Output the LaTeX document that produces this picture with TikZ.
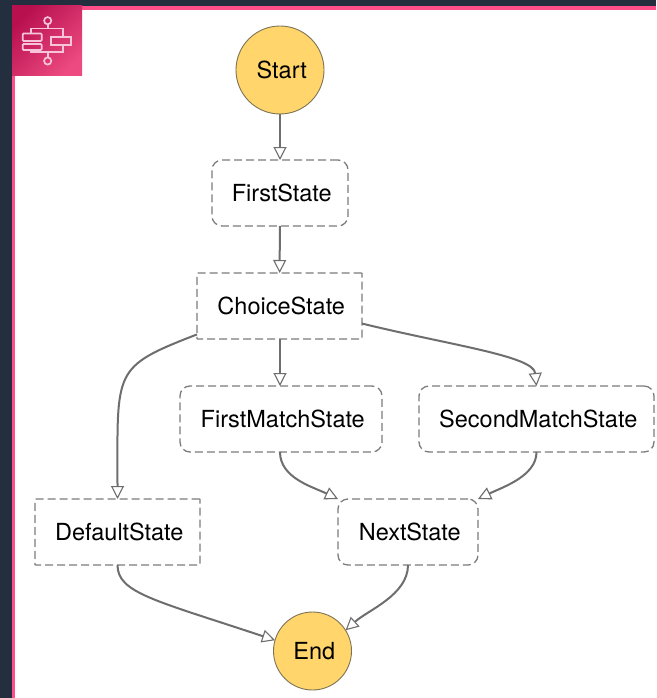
\documentclass[tikz,border=0pt]{standalone}
\usepackage{fontspec}
\setmainfont{TeX Gyre Heros}
\usetikzlibrary{arrows.meta}
\definecolor{navy}{HTML}{232F3E}
\definecolor{framepink}{HTML}{FF4F8B}
\definecolor{icondark}{HTML}{B8104F}
\definecolor{iconlight}{HTML}{EC4A80}
\definecolor{iconline}{HTML}{F7C4DA}
\definecolor{endfill}{HTML}{FFD56C}
\definecolor{endline}{HTML}{7D7355}
\definecolor{linegray}{HTML}{6E6E6E}
\definecolor{dashgray}{HTML}{7C7C7C}
\tikzset{
    labeltext/.style = {font = \fontsize{23.5}{27}\selectfont, text = black, execute at begin node = \hspace{3.5pt}},
    statebox/.style = {labeltext, draw = dashgray, line width = 1.3, dash pattern = on 8pt off 4pt, rounded corners = 0.5, minimum height = 66, inner sep = 0, outer sep = 0},
    roundbox/.style = {statebox, rounded corners = 10},
    endpoint/.style = {labeltext, circle, draw = endline, fill = endfill, line width = 0.9, inner sep = 0, outer sep = 0},
    edge/.style = {draw = linegray, line width = 2, -{Triangle[open, length = 13, width = 13, line width = 1.1]}},
    iconstroke/.style = {draw = iconline, line width = 1.7}
}
\begin{document}
\begin{tikzpicture}[x=1pt, y=-1pt]
        \useasboundingbox (0,0) rectangle (656,698);
        % page frame
        \fill[navy] (0,0) rectangle (656,698);
        \fill[framepink] (12,6) rectangle (656,698);
        \fill[white] (15,10) rectangle (656,698);

        % icon
        \shade[left color = icondark, right color = iconlight, shading angle = 45] (12,6) rectangle (82,76);
        \draw[iconstroke] (47.7,20.7) circle (3.6);
        \draw[iconstroke] (47.7,61) circle (3.6);
        \draw[iconstroke] (47.7,24.3) -- (47.7,28.5);
        \draw[iconstroke] (47.7,51.7) -- (47.7,57.4);
        \draw[iconstroke] (30.7,33.5) -- (30.7,28.5) -- (62.7,28.5) -- (62.7,36.7);
        \draw[iconstroke] (30.7,50) -- (30.7,51.7) -- (62.7,51.7) -- (62.7,45);
        \draw[iconstroke] (51,36.7) rectangle (71,45);
        \draw[iconstroke, rounded corners = 1] (22.7,33.5) rectangle (41.7,41);
        \draw[iconstroke, rounded corners = 1] (22.7,44) rectangle (41.7,50);

        % states
        \node[endpoint, minimum size = 88] (Start) at (280,70) {Start};
        \node[roundbox, minimum width = 136] (FirstState) at (280,193) {FirstState};
        \node[statebox, minimum width = 165] (ChoiceState) at (279.5,306) {ChoiceState};
        \node[roundbox, minimum width = 202] (FirstMatchState) at (281,419) {FirstMatchState};
        \node[roundbox, minimum width = 235] (SecondMatchState) at (536.5,419) {SecondMatchState};
        \node[statebox, minimum width = 165] (DefaultState) at (117.5,532) {DefaultState};
        \node[roundbox, minimum width = 140] (NextState) at (408,532) {NextState};
        \node[endpoint, minimum size = 78] (End) at (312.5,651) {End};

        % transitions
        \draw[edge] (Start) -- (FirstState);
        \draw[edge] (FirstState) -- (ChoiceState);
        \draw[edge] (ChoiceState.south -| Start.south) -- (FirstMatchState.north -| Start.south);
        \draw[edge] (ChoiceState.-161) .. controls +(-85,33) and +(0,-130) .. (DefaultState.north);
        \draw[edge] (ChoiceState.-12) .. controls +(90,22) and +(-3,-30) .. (SecondMatchState.north);
        \draw[edge] (FirstMatchState.south -| Start.south) .. controls +(0,26) and +(-25,-12) .. (NextState.north west);
        \draw[edge] (SecondMatchState.south) .. controls +(0,24) and +(25,-12) .. (NextState.north east);
        \draw[edge] (DefaultState.south) .. controls +(0,28) and +(-120,-40) .. (End.164);
        \draw[edge] (NextState.south) .. controls +(0,30) and +(22,-20) .. (End.32);
    \end{tikzpicture}
\end{document}
